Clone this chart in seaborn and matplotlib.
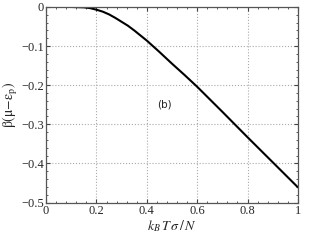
import matplotlib
matplotlib.use("Agg")
import matplotlib.pyplot as plt
import seaborn as sns
import pandas as pd
from matplotlib.ticker import MultipleLocator

temperature = [0.0, 0.1, 0.15, 0.175, 0.2, 0.225, 0.25, 0.275, 0.3, 0.325, 0.35, 0.375, 0.4, 0.45, 0.5, 0.55, 0.6, 0.7, 0.8, 0.9, 1.0]
beta_mu = [0.0, 0.0, -0.001, -0.003, -0.007, -0.012, -0.019, -0.028, -0.038, -0.048, -0.06, -0.073, -0.086, -0.115, -0.145, -0.174, -0.204, -0.268, -0.333, -0.397, -0.461]
x_ticks = [0, 0.2, 0.4, 0.6, 0.8, 1]
x_tick_labels = ["0", "0.2", "0.4", "0.6", "0.8", "1"]
y_ticks = [0, -0.1, -0.2, -0.3, -0.4, -0.5]
y_tick_labels = ["0", "\u22120.1", "\u22120.2", "\u22120.3", "\u22120.4", "\u22120.5"]

sns.set_style("ticks")
plt.rcParams["font.family"] = ["Liberation Serif", "DejaVu Serif"]
plt.rcParams["mathtext.fontset"] = "stix"

df = pd.DataFrame({"T": temperature, "b": beta_mu})

fig = plt.figure(figsize=(3.27, 2.40), dpi=100)
ax = fig.add_axes([0.141, 0.156, 0.770, 0.815])
sns.lineplot(data=df, x="T", y="b", ax=ax, color="black", linewidth=1.5)

ax.set_xlim(0, 1)
ax.set_ylim(-0.5, 0)
ax.set_xticks(x_ticks)
ax.set_xticklabels(x_tick_labels)
ax.set_yticks(y_ticks)
ax.set_yticklabels(y_tick_labels)
ax.xaxis.set_minor_locator(MultipleLocator(0.04))
ax.yaxis.set_minor_locator(MultipleLocator(0.02))
ax.tick_params(which="both", direction="in", top=True, right=True, labelsize=9, pad=1.5, color="#444444")
ax.tick_params(which="major", length=3, width=0.8)
ax.tick_params(which="minor", length=1.5, width=0.6)
for s in ax.spines.values():
    s.set_color("#555555")
    s.set_linewidth(0.9)
ax.grid(True, which="major", linestyle=":", color="#aaaaaa", linewidth=0.8)

ax.set_xlabel(r"$k_B\,T\,\sigma\,/\,N$", fontsize=10, labelpad=1)
ax.set_ylabel(r"$\mathrm{\beta(\mu{-}\varepsilon_p)}$", fontsize=10, labelpad=1)
ax.text(0.47, -0.25, "(b)", fontsize=7.5, family="DejaVu Sans", ha="center", va="center")

fig.savefig("out.png", dpi=100)
